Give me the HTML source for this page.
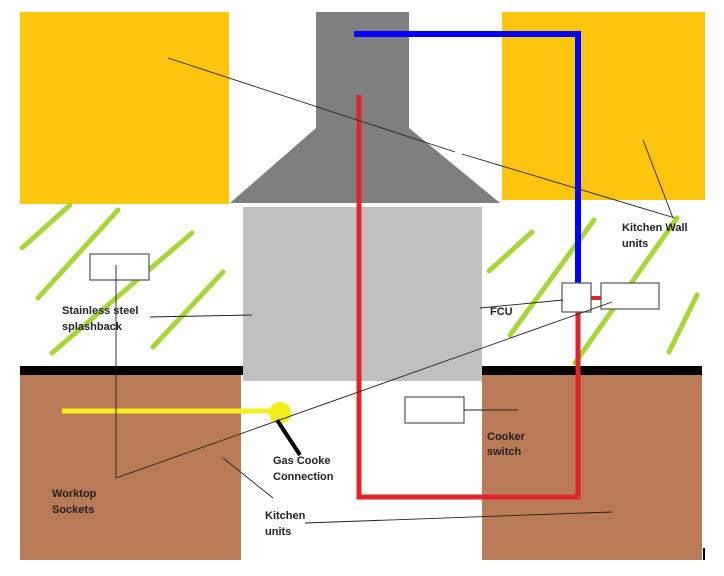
<!DOCTYPE html>
<html><head><meta charset="utf-8"><style>
body{margin:0;background:#fff}
svg{display:block}
text{font-family:"Liberation Sans",sans-serif;font-size:11px;font-weight:bold;fill:#222}
</style></head><body>
<svg width="724" height="576" viewBox="0 0 724 576">
<rect width="724" height="576" fill="#fff"/>
<rect x="20" y="12" width="209" height="192" fill="#fdc50d"/>
<rect x="502" y="12" width="203" height="188" fill="#fdc50d"/>
<polygon points="316,12 409,12 409,128 500,203 230,203 316,128" fill="#7f7f7f"/>
<rect x="243" y="207" width="239" height="174" fill="#c0c0c0"/>
<rect x="20" y="375" width="221" height="185" fill="#b97a57"/>
<rect x="482" y="375" width="220" height="185" fill="#b97a57"/>
<rect x="20" y="366" width="223" height="9" fill="#000"/>
<rect x="482" y="366" width="220" height="9" fill="#000"/>
<rect x="703" y="548" width="2" height="12" fill="#000"/>
<g stroke="#a8d63a" stroke-width="5" stroke-linecap="round">
<line x1="22" y1="248" x2="70" y2="205"/>
<line x1="38" y1="298" x2="118" y2="210"/>
<line x1="52" y1="353" x2="192" y2="233"/>
<line x1="153" y1="347" x2="223" y2="272"/>
<line x1="489" y1="271" x2="532" y2="232"/>
<line x1="510" y1="335" x2="594" y2="220"/>
<line x1="575" y1="363" x2="677" y2="218"/>
<line x1="669" y1="352" x2="697" y2="295"/>
</g>
<polyline points="354,34 578,34 578,284" fill="none" stroke="#0000ff" stroke-width="6"/>
<polyline points="359,95 359,497 578,497 578,312" fill="none" stroke="#e0252a" stroke-width="5"/>
<line x1="591" y1="298" x2="602" y2="298" stroke="#e0252a" stroke-width="4"/>
<g fill="#fff" stroke="#555" stroke-width="1.2">
<rect x="562" y="283" width="29" height="29"/>
<rect x="601" y="283" width="58" height="26"/>
<rect x="90" y="254" width="59" height="26"/>
<rect x="405" y="397" width="59" height="26"/>
</g>
<line x1="62" y1="411" x2="280" y2="411" stroke="#f5ee1c" stroke-width="5"/>
<circle cx="280" cy="413" r="11" fill="#f5ee1c"/>
<line x1="277" y1="420" x2="300" y2="455" stroke="#000" stroke-width="4"/>
<g stroke="#222" stroke-width="0.9" fill="none">
<line x1="168" y1="58" x2="455" y2="152"/>
<line x1="462" y1="154" x2="675" y2="218"/>
<line x1="643" y1="140" x2="673" y2="218"/>
<line x1="480" y1="308" x2="563" y2="300"/>
<polyline points="116,265 116,478 612,302"/>
<line x1="150" y1="317" x2="252" y2="315"/>
<line x1="223" y1="458" x2="273" y2="498"/>
<line x1="305" y1="523" x2="612" y2="512"/>
<line x1="464" y1="410" x2="518" y2="410"/>
</g>
<text x="622" y="231">Kitchen Wall</text>
<text x="622" y="247">units</text>
<text x="62" y="314">Stainless steel</text>
<text x="62" y="330">splashback</text>
<text x="490" y="315">FCU</text>
<text x="487" y="440">Cooker</text>
<text x="487" y="455">switch</text>
<text x="273" y="464">Gas Cooke</text>
<text x="273" y="480">Connection</text>
<text x="52" y="497">Worktop</text>
<text x="52" y="513">Sockets</text>
<text x="265" y="519">Kitchen</text>
<text x="265" y="535">units</text>
</svg>
</body></html>
